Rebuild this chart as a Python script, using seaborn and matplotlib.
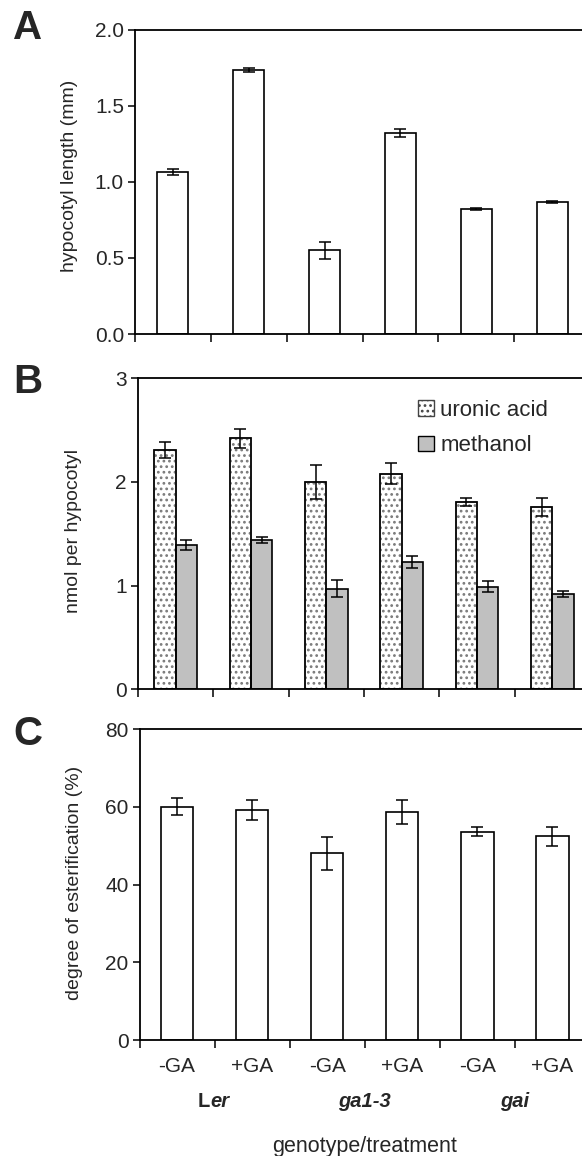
import matplotlib
matplotlib.use("Agg")
import matplotlib.pyplot as plt
from matplotlib.patches import Patch, Rectangle
from matplotlib.ticker import FixedLocator, FormatStrFormatter
import matplotlib.transforms as mtransforms
import seaborn as sns
import pandas as pd

# ---------------- data ----------------
conditions = ["Ler -GA", "Ler +GA", "ga1-3 -GA", "ga1-3 +GA", "gai -GA", "gai +GA"]
treatments = ["-GA", "+GA", "-GA", "+GA", "-GA", "+GA"]
genotypes = ["ga1-3", "gai"]

hypocotyl_len = [1.064, 1.735, 0.549, 1.318, 0.822, 0.866]
hypocotyl_err = [0.020, 0.015, 0.055, 0.027, 0.008, 0.008]

uronic_acid = [2.31, 2.42, 2.00, 2.08, 1.81, 1.76]
uronic_err = [0.08, 0.09, 0.16, 0.10, 0.04, 0.09]
methanol = [1.39, 1.44, 0.97, 1.23, 0.99, 0.92]
methanol_err = [0.05, 0.03, 0.08, 0.06, 0.05, 0.03]

esterification = [60.1, 59.2, 48.1, 58.8, 53.6, 52.4]
esterification_err = [2.2, 2.5, 4.2, 3.1, 1.2, 2.5]

series_names = ["uronic acid", "methanol"]

# ---------------- style ----------------
sns.set_style("ticks")
plt.rcParams["font.family"] = ["Liberation Sans", "DejaVu Sans"]
plt.rcParams["axes.linewidth"] = 1.3
plt.rcParams["hatch.linewidth"] = 1.2

fig = plt.figure(figsize=(5.82, 11.56), dpi=100)
W, H = 582.0, 1156.0

def axes_px(left, right, top, bottom):
    return fig.add_axes([left / W, 1 - bottom / H, (right - left) / W, (bottom - top) / H])

axA = axes_px(135, 590, 29.5, 334)
axB = axes_px(138, 590, 378.3, 689.3)
axC = axes_px(139.5, 590, 729.3, 1040)

TICK_FS = 15
LABEL_FS = 14

def style_axis(ax, ylim, yticks, fmt, ylabel, label_xy):
    ax.set_xlim(-0.5, 5.5)
    ax.set_ylim(*ylim)
    ax.set_yticks(yticks)
    ax.yaxis.set_major_formatter(FormatStrFormatter(fmt))
    for s in ax.spines.values():
        s.set_visible(True)
        s.set_linewidth(1.3)
        s.set_color("black")
    ax.tick_params(axis="y", direction="out", length=5, width=1.3, labelsize=TICK_FS, pad=3)
    ax.tick_params(axis="x", which="major", length=0, labelsize=TICK_FS, pad=12)
    ax.xaxis.set_minor_locator(FixedLocator([i + 0.5 for i in range(-1, 6)]))
    ax.tick_params(axis="x", which="minor", direction="out", length=5.5, width=1.3)
    ax.set_xlabel("")
    ax.set_ylabel(ylabel, fontsize=LABEL_FS)
    ax.yaxis.set_label_coords(*label_xy)
    ax.yaxis.label.set_verticalalignment("center")

def add_errors(ax, patches, vals, errs):
    xs = [p.get_x() + p.get_width() / 2 for p in patches]
    ax.errorbar(xs, vals, yerr=errs, fmt="none", ecolor="black",
                elinewidth=1.1, capsize=4, capthick=1.1, zorder=5)

# ---------------- panel A ----------------
dfA = pd.DataFrame({"condition": conditions, "value": hypocotyl_len})
sns.barplot(data=dfA, x="condition", y="value", order=conditions, color="white",
            saturation=1, edgecolor="black", linewidth=1.2, width=0.41,
            errorbar=None, ax=axA)
add_errors(axA, axA.patches, hypocotyl_len, hypocotyl_err)
style_axis(axA, (0, 2.0), [0, 0.5, 1.0, 1.5, 2.0], "%.1f", "hypocotyl length (mm)", (-0.143, 0.52))
axA.set_xticklabels([""] * 6)

# ---------------- panel B ----------------
dfB = pd.DataFrame({
    "condition": conditions * 2,
    "series": [series_names[0]] * 6 + [series_names[1]] * 6,
    "value": uronic_acid + methanol,
})
sns.barplot(data=dfB, x="condition", y="value", hue="series", order=conditions,
            hue_order=series_names, palette={"uronic acid": "white", "methanol": "#C0C0C0"},
            saturation=1, edgecolor="black", linewidth=1.2, width=0.57, gap=0,
            errorbar=None, legend=False, ax=axB)
uron_patches = list(axB.containers[0].patches)
meth_patches = list(axB.containers[1].patches)
for p in uron_patches:
    p.set_hatch("...")
    p.set_edgecolor("#7a7a7a")
    outline = Rectangle(p.get_xy(), p.get_width(), p.get_height(), fill=False,
                        edgecolor="black", linewidth=1.2, zorder=p.get_zorder() + 0.1)
    axB.add_patch(outline)
add_errors(axB, uron_patches, uronic_acid, uronic_err)
add_errors(axB, meth_patches, methanol, methanol_err)
style_axis(axB, (0, 3), [0, 1, 2, 3], "%d", "nmol per hypocotyl", (-0.1416, 0.51))
axB.set_xticklabels([""] * 6)

h1 = Patch(facecolor="white", edgecolor="#444444", hatch="...", linewidth=1.0)
h2 = Patch(facecolor="#C0C0C0", edgecolor="black", linewidth=1.0)
leg = axB.legend(handles=[h1, h2], labels=series_names, loc="upper left",
                 bbox_to_anchor=(0.6, 0.96), frameon=False, fontsize=16,
                 handlelength=0.7, handleheight=0.7, handletextpad=0.3,
                 labelspacing=0.65, borderaxespad=0)

# ---------------- panel C ----------------
dfC = pd.DataFrame({"condition": conditions, "value": esterification})
sns.barplot(data=dfC, x="condition", y="value", order=conditions, color="white",
            saturation=1, edgecolor="black", linewidth=1.2, width=0.43,
            errorbar=None, ax=axC)
add_errors(axC, axC.patches, esterification, esterification_err)
style_axis(axC, (0, 80), [0, 20, 40, 60, 80], "%d", "degree of esterification (%)", (-0.145, 0.504))
axC.set_xticks(range(6))
axC.set_xticklabels(treatments)

trans = mtransforms.blended_transform_factory(axC.transData, axC.transAxes)
axC.text(0.44, -0.199, "L", transform=trans, ha="right", va="center",
         fontsize=14.5, fontweight="bold")
axC.text(0.44, -0.199, "er", transform=trans, ha="left", va="center",
         fontsize=14.5, fontweight="bold", fontstyle="italic")
for i, g in enumerate(genotypes):
    axC.text(2.5 + 2 * i, -0.199, g, transform=trans, ha="center", va="center",
             fontsize=14.5, fontweight="bold", fontstyle="italic")
axC.text(2.5, -0.343, "genotype/treatment", transform=trans, ha="center",
         va="center", fontsize=15.5)

# ---------------- panel letters ----------------
for letter, yc in [("A", 28), ("B", 382.5), ("C", 734)]:
    fig.text(28 / W, 1 - yc / H, letter, ha="center", va="center",
             fontsize=29, fontweight="bold")

fig.savefig("out.png", dpi=100)
